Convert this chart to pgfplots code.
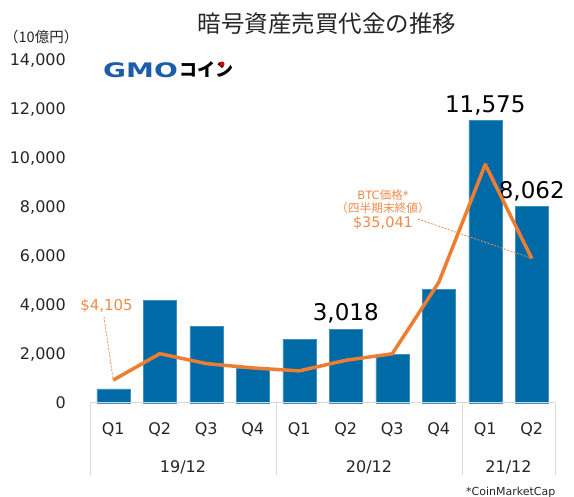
\documentclass[border=0pt]{standalone}
\usepackage{fontspec}
\setmainfont{DejaVu Sans}
\newfontfamily\jp{Noto Sans CJK JP}
\usepackage{pgfplots}
\pgfplotsset{compat=1.18}
\definecolor{barblue}{HTML}{006AA7}
\definecolor{btcorange}{HTML}{ED7D31}
\definecolor{annot}{HTML}{F08A4B}
\definecolor{gridgray}{HTML}{D9D9D9}
\definecolor{txt}{HTML}{262626}
\definecolor{gmoblue}{HTML}{1C5DAB}
\newcommand\fs[1]{\fontsize{#1bp}{#1bp}\selectfont}
\begin{document}
\begin{tikzpicture}[x=1bp,y=1bp]
\useasboundingbox (0,0) rectangle (574,497);
\begin{axis}[
  at={(90bp,94bp)}, anchor=south west, scale only axis,
  width=465bp, height=342bp,
  xmin=-0.5, xmax=9.5, ymin=0, ymax=14000,
  axis line style={draw=none},
  major tick length=0pt,
  ybar, bar width=33bp,
  xtick={0,...,9},
  xticklabels={Q1,Q2,Q3,Q4,Q1,Q2,Q3,Q4,Q1,Q2},
  xticklabel style={anchor=center, yshift=-27bp, font=\fs{16}, text=txt},
  ytick={0,2000,...,14000},
  scaled y ticks=false,
  yticklabel style={anchor=east, inner sep=0pt, xshift=-24bp, font=\fs{16}, text=txt,
    /pgf/number format/.cd, 1000 sep={,}, assume math mode=true},
  clip=false,
]
\addplot[fill=barblue, draw=barblue!75!white, line width=0.4bp] coordinates {
  (0,580) (1,4200) (2,3140) (3,1440) (4,2610) (5,3018) (6,1985) (7,4665) (8,11575) (9,8062)};
\node[anchor=base, inner sep=0pt, font=\fs{23}, text=black] at ([yshift=9bp]axis cs:5,3018) {3,018};
\node[anchor=base, inner sep=0pt, font=\fs{23}, text=black] at ([yshift=8bp]axis cs:8,11575) {11,575};
\node[anchor=base, inner sep=0pt, font=\fs{23}, text=black] at ([yshift=8bp]axis cs:9,8062) {8,062};
\end{axis}
\begin{axis}[
  at={(90bp,94bp)}, anchor=south west, scale only axis,
  width=465bp, height=342bp,
  xmin=-0.5, xmax=9.5, ymin=-1724, ymax=85244,
  hide axis, clip=false,
]
\addplot[btcorange, line width=3.5bp, line join=round, mark=none] coordinates {
  (0,4105) (1,10817) (2,8293) (3,7193) (4,6438) (5,9137) (6,10784) (7,28949) (8,58918) (9,35041)};
\coordinate (p0) at (axis cs:0,4105);
\coordinate (p9) at (axis cs:9,35041);
\end{axis}
% axis base line and group separators
\draw[gridgray, line width=1bp] (90,94) -- (555,94);
\foreach \xx in {90,276,462,555} \draw[gridgray, line width=1bp] (\xx,94) -- (\xx,22);
\node[font=\fs{16}, text=txt] at (183,30) {19/12};
\node[font=\fs{16}, text=txt] at (369,30) {20/12};
\node[font=\fs{16}, text=txt] at (508.5,30) {21/12};
% annotations
\node[font=\fs{15}, text=annot] at (106.5,191) {\$4,105};
\draw[annot, dashed, line width=0.8bp, dash pattern=on 2bp off 1.5bp] (104,180) -- (p0);
\node[font=\fs{11.5}, text=annot] at (383,302) {BTC{\jp 価格}*};
\node[font=\fs{11.7}, text=annot] at (383,289) {\jp （四半期末終値）};
\node[font=\fs{14.5}, text=annot] at (383,274) {\$35,041};
\draw[annot, dashed, line width=0.8bp, dash pattern=on 2bp off 1.5bp] (418,278) -- (p9);
% title and unit
\node[font={\jp\fs{23.5}}, text=txt] at (327,473) {暗号資産売買代金の推移};
\node[font={\jp\fs{14.5}}, text=txt, anchor=west, inner sep=0pt] at (4,460) {（10億円）};
% logo
\node[anchor=west, inner sep=0pt, text=gmoblue] at (103,427) {\scalebox{1.4}[1]{\fs{20}\bfseries GMO}};
\node[anchor=west, inner sep=0pt, text=black] at (179,427) {\jp\bfseries\fs{18}コイン};
\fill[red!85!black] (222,433) circle (2.5);
% source
\node[anchor=base west, inner sep=0pt, font=\fs{11}, text=txt] at (466,1.5) {*CoinMarketCap};
\end{tikzpicture}
\end{document}
